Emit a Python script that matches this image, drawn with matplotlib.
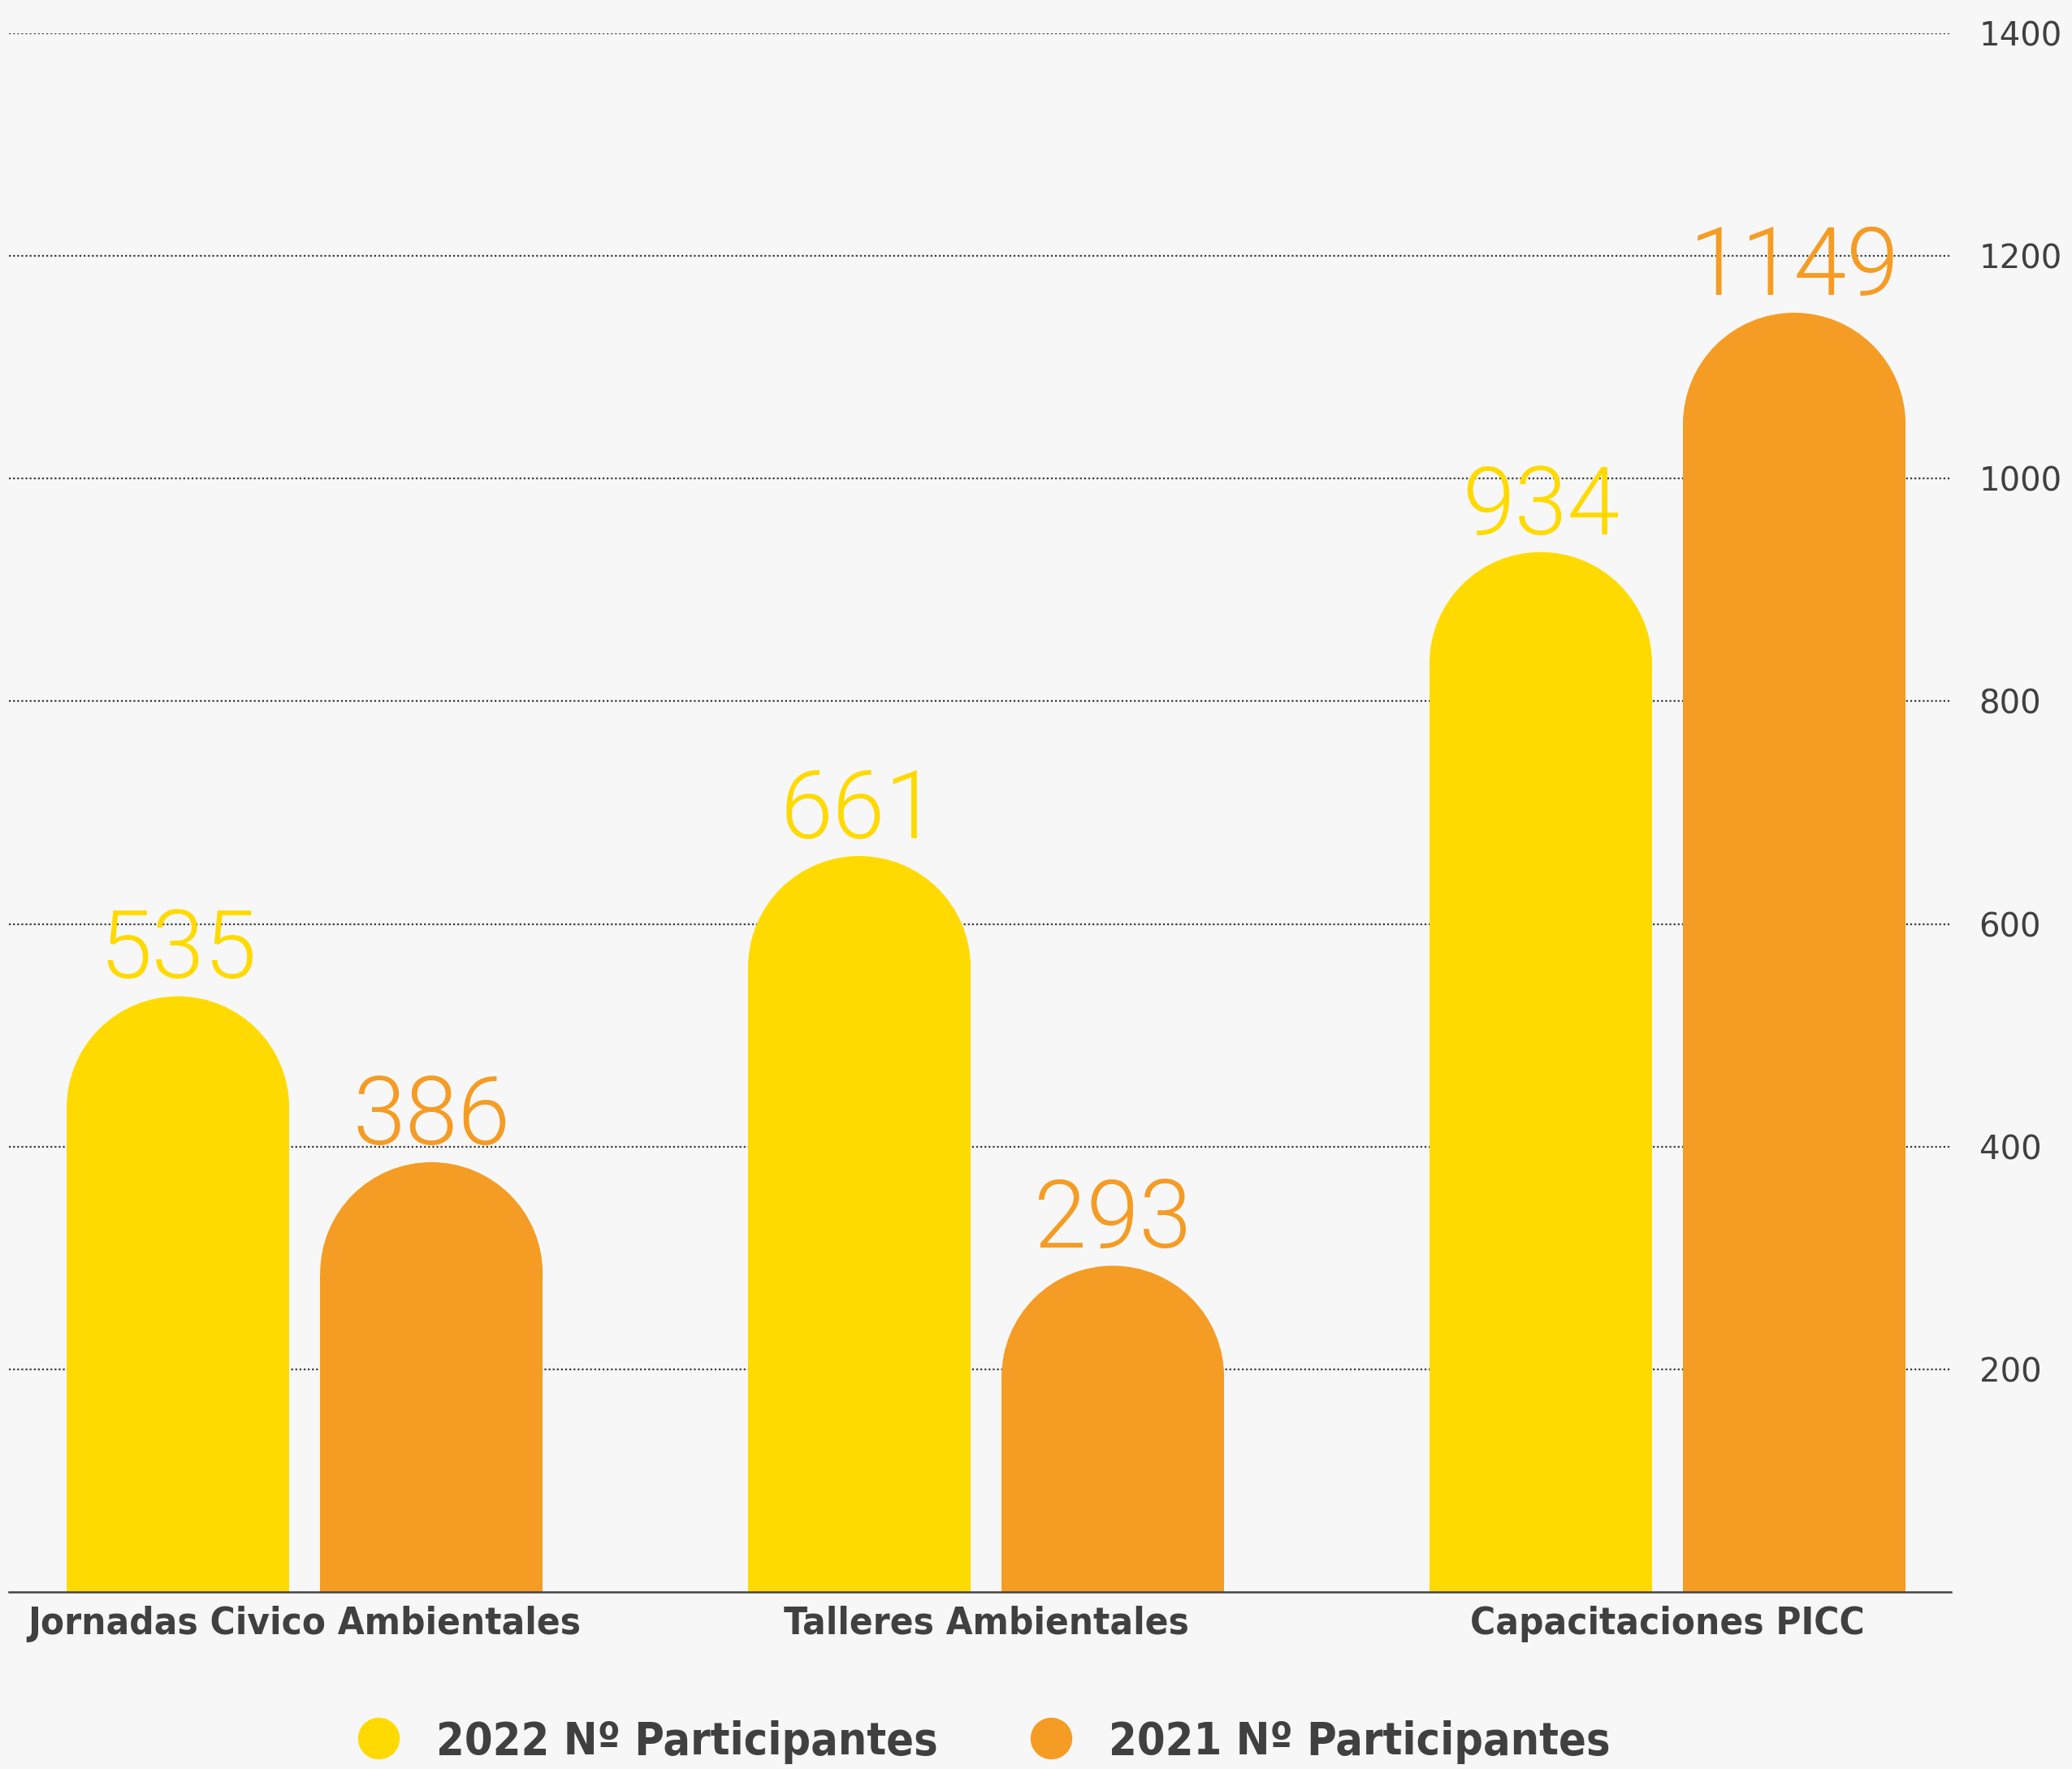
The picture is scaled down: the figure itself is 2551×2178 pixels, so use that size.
import numpy as np
import matplotlib
matplotlib.use("Agg")
import matplotlib.pyplot as plt
from matplotlib.patches import Ellipse
from matplotlib.lines import Line2D

categories = ["Jornadas Civico Ambientales", "Talleres Ambientales", "Capacitaciones PICC"]
participantes_2022 = [535, 661, 934]
participantes_2021 = [386, 293, 1149]
series_labels = ["2022 Nº Participantes", "2021 Nº Participantes"]
y_ticks = [200, 400, 600, 800, 1000, 1200, 1400]

YELLOW = "#FFDA00"
ORANGE = "#F59C24"
TEXT = "#404040"
BG = "#F7F7F7"

W_PX, H_PX = 2551, 2178
DPI = 100


def rounded_bars(ax, xs, values, width, color, px_per_x, px_per_y):
    """Bars whose top is a half circle (in screen space) ending at the value."""
    ry = (width * px_per_x / 2) / px_per_y
    for x, v in zip(xs, values):
        ax.bar(x, v - ry, width=width, color=color, linewidth=0, zorder=2)
        ax.add_patch(Ellipse((x, v - ry), width, 2 * ry, color=color,
                             linewidth=0, zorder=2))


def main():
    fig = plt.figure(figsize=(W_PX / DPI, H_PX / DPI), dpi=DPI, facecolor=BG)
    left, right, top, bottom = 11, 2402, 41, 1960
    ax = fig.add_axes([left / W_PX, 1 - bottom / H_PX,
                       (right - left) / W_PX, (bottom - top) / H_PX])
    ax.set_facecolor(BG)

    xlim = (-0.434, 2.416)
    ylim = (0, 1400)
    ax.set_xlim(*xlim)
    ax.set_ylim(*ylim)
    px_per_x = (right - left) / (xlim[1] - xlim[0])
    px_per_y = (bottom - top) / (ylim[1] - ylim[0])

    x = np.arange(len(categories))
    width = 0.3266
    offset = 0.186

    rounded_bars(ax, x - offset, participantes_2022, width, YELLOW, px_per_x, px_per_y)
    rounded_bars(ax, x + offset, participantes_2021, width, ORANGE, px_per_x, px_per_y)

    # value labels above each bar
    for xs, vals, col in [(x - offset, participantes_2022, YELLOW),
                          (x + offset, participantes_2021, ORANGE)]:
        for xi, v in zip(xs, vals):
            ax.annotate(str(v), (xi, v), xytext=(0, 16), textcoords="offset points",
                        ha="center", va="baseline", color=col, fontsize=84,
                        family=["Roboto", "DejaVu Sans"], fontweight=300,
                        zorder=4, annotation_clip=False)

    # axes styling
    ax.set_axisbelow(True)
    ax.yaxis.grid(True, linestyle=(0, (1, 1.3)), color="#3a3a3a", linewidth=1.6)
    ax.xaxis.grid(False)
    for side in ["left", "right", "top"]:
        ax.spines[side].set_visible(False)
    ax.spines["bottom"].set_color("#444444")
    ax.spines["bottom"].set_linewidth(1.8)
    ax.spines["bottom"].set_zorder(3)

    ax.yaxis.tick_right()
    ax.set_yticks(y_ticks)
    ax.set_yticklabels([str(t) for t in y_ticks])
    ax.tick_params(axis="y", length=0, pad=25, labelsize=29, labelcolor=TEXT)

    ax.set_xticks(x)
    ax.set_xticklabels(categories)
    ax.tick_params(axis="x", length=0, pad=12, labelcolor=TEXT)
    for lbl in ax.get_xticklabels():
        lbl.set_fontfamily("DejaVu Sans")
        lbl.set_fontstretch("condensed")
        lbl.set_fontweight("bold")
        lbl.set_fontsize(34)

    handles = [Line2D([], [], marker="o", linestyle="", markersize=37,
                      markerfacecolor=c, markeredgewidth=0)
               for c in (YELLOW, ORANGE)]
    fig.legend(handles, series_labels, loc="center", bbox_to_anchor=(0.4745, 0.0152),
               ncol=2, frameon=False, handlelength=1.0, handletextpad=0.78,
               columnspacing=2.0, borderpad=0, labelcolor=TEXT,
               prop={"family": "DejaVu Sans", "stretch": "condensed",
                     "weight": "bold", "size": 40})

    fig.savefig("out.png", dpi=DPI, facecolor=BG)


if __name__ == "__main__":
    main()
